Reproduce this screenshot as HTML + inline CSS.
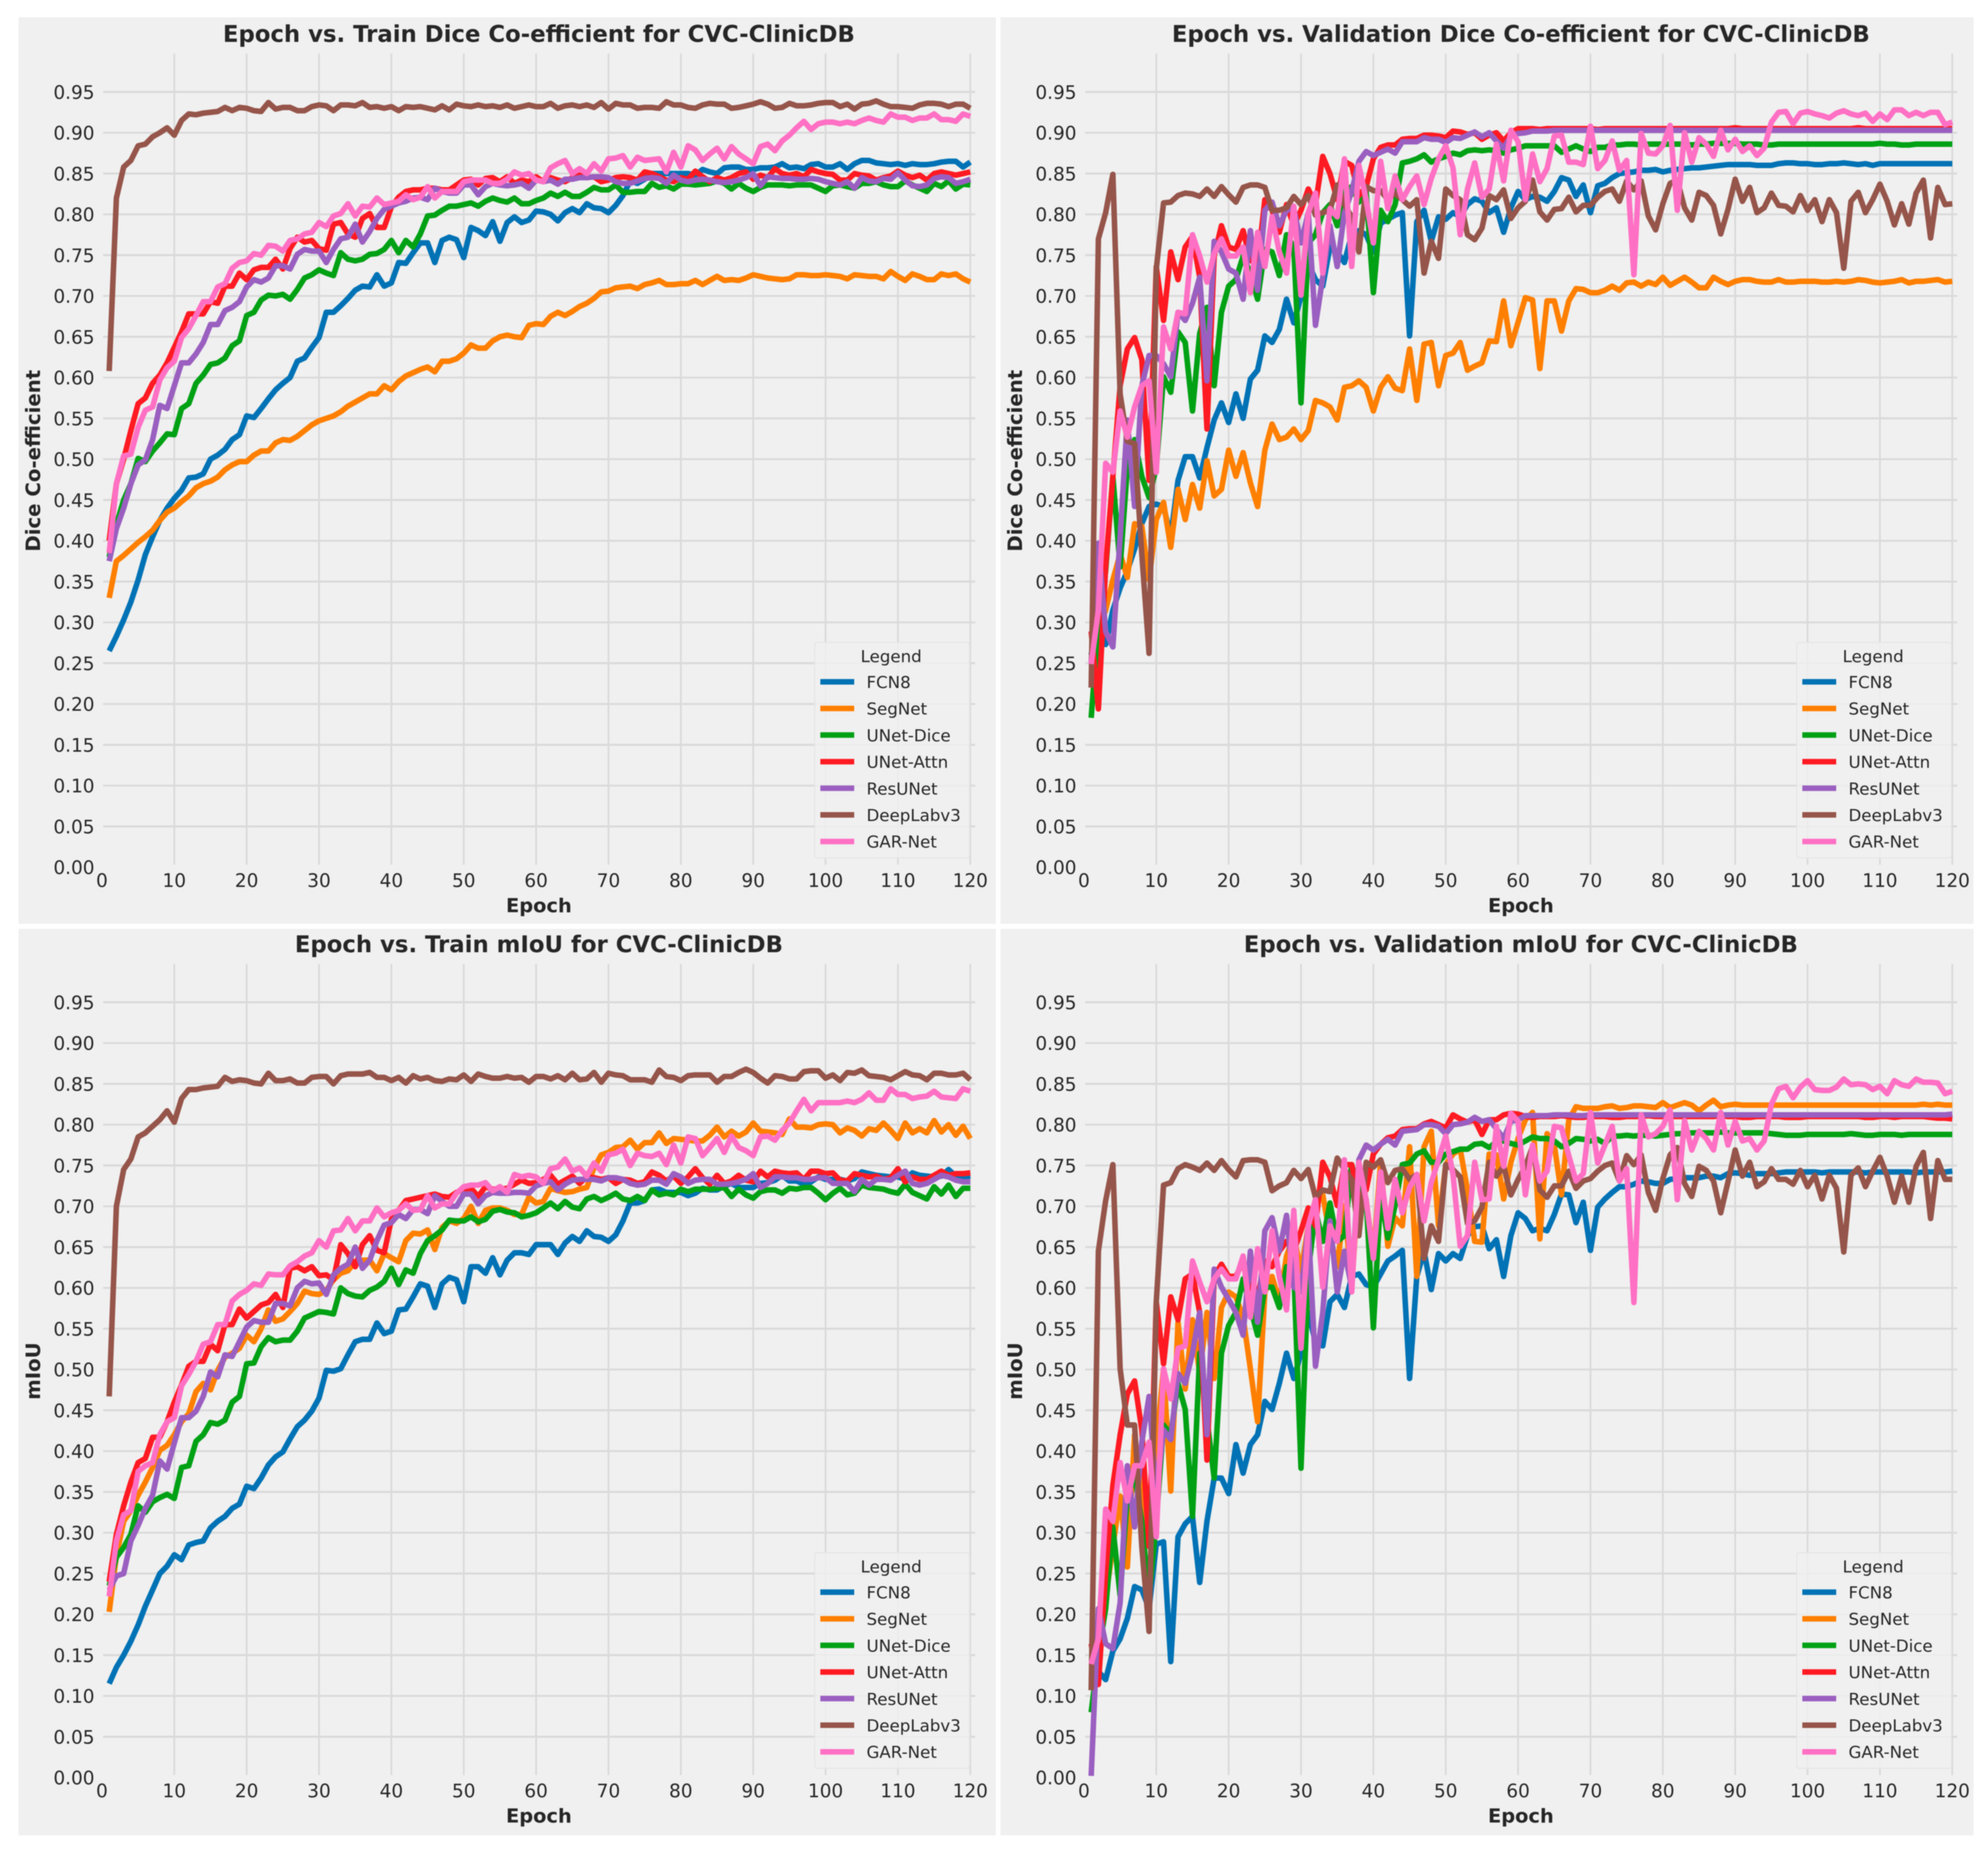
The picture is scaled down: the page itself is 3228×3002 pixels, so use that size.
<!DOCTYPE html>
<html lang="en">
<head>
<meta charset="utf-8">
<title>Epoch vs. Dice and mIoU for CVC-ClinicDB</title>
<style>
html,body{margin:0;padding:0;background:#fff;width:3228px;height:3002px;overflow:hidden}
#chart{display:block;filter:blur(0.8px)}
text{font-family:"DejaVu Sans","Liberation Sans",sans-serif;fill:#262626}
</style>
</head>
<body>
<svg id="chart" xmlns="http://www.w3.org/2000/svg" width="3228" height="3002" viewBox="0 0 3228 3002"></svg>
<script>
const xTickValues = [10,20,30,40,50,60,70,80,90,100,110,120];
const xTickLabels = ["0","10","20","30","40","50","60","70","80","90","100","110","120"];
const yTickLabels = ["0.00","0.05","0.10","0.15","0.20","0.25","0.30","0.35","0.40","0.45","0.50","0.55","0.60","0.65","0.70","0.75","0.80","0.85","0.90","0.95"];
const seriesNames = ["FCN8","SegNet","UNet-Dice","UNet-Attn","ResUNet","DeepLabv3","GAR-Net"];

const trainDiceFCN8 = [
.265,.283,.303,.325,.352,.383,.405,.425,.44,.452,
.462,.477,.478,.482,.5,.505,.512,.524,.53,.553,
.551,.562,.574,.585,.593,.6,.62,.624,.637,.649,
.68,.68,.688,.697,.707,.712,.711,.726,.712,.716,
.741,.74,.753,.765,.765,.741,.768,.772,.769,.747,
.784,.78,.774,.791,.767,.79,.797,.79,.793,.804,
.803,.8,.792,.802,.807,.802,.813,.808,.807,.802,
.811,.823,.841,.838,.843,.85,.85,.85,.85,.85,
.85,.848,.855,.852,.85,.857,.858,.858,.855,.855,
.857,.857,.858,.862,.857,.858,.856,.861,.862,.858,
.858,.862,.855,.862,.866,.866,.863,.862,.861,.862,
.86,.862,.861,.861,.862,.864,.865,.865,.858,.864];
const trainDiceSegNet = [
.33,.375,.382,.39,.398,.405,.413,.425,.435,.44,
.448,.455,.465,.47,.473,.478,.487,.493,.497,.497,
.505,.51,.51,.52,.524,.523,.528,.535,.542,.547,
.55,.553,.558,.565,.57,.575,.58,.58,.59,.585,
.595,.602,.606,.61,.613,.607,.62,.62,.623,.63,
.64,.636,.636,.645,.65,.652,.65,.649,.664,.666,
.665,.675,.68,.676,.681,.687,.691,.697,.705,.706,
.71,.711,.712,.709,.714,.716,.719,.714,.714,.715,
.715,.719,.714,.719,.724,.719,.72,.719,.722,.726,
.724,.722,.721,.72,.721,.726,.726,.725,.725,.726,
.725,.724,.721,.726,.725,.724,.724,.721,.73,.724,
.719,.727,.724,.72,.72,.727,.725,.727,.721,.717];
const trainDiceUNetDice = [
.38,.42,.45,.47,.501,.497,.51,.52,.531,.53,
.562,.568,.593,.603,.616,.618,.624,.639,.645,.676,
.68,.695,.701,.7,.702,.696,.708,.722,.726,.732,
.728,.725,.753,.745,.743,.745,.751,.752,.757,.768,
.753,.768,.76,.776,.798,.799,.805,.81,.81,.812,
.814,.81,.816,.82,.817,.815,.82,.813,.813,.817,
.82,.826,.822,.827,.822,.822,.827,.833,.83,.83,
.836,.827,.827,.828,.828,.838,.833,.835,.831,.837,
.837,.836,.837,.838,.841,.838,.831,.838,.832,.828,
.833,.836,.836,.836,.835,.836,.836,.836,.832,.828,
.835,.836,.834,.832,.838,.838,.84,.836,.834,.834,
.841,.836,.832,.828,.838,.834,.841,.831,.837,.836];
const trainDiceUNetAttn = [
.4,.47,.5,.535,.568,.575,.593,.603,.618,.637,
.656,.678,.678,.678,.693,.691,.712,.712,.728,.72,
.732,.735,.735,.745,.733,.758,.772,.766,.768,.758,
.756,.788,.79,.776,.772,.795,.801,.784,.784,.809,
.821,.828,.83,.83,.832,.832,.83,.83,.836,.842,
.843,.836,.844,.845,.84,.846,.838,.842,.84,.846,
.84,.845,.842,.84,.845,.848,.845,.846,.84,.842,
.845,.846,.845,.842,.852,.85,.846,.842,.84,.845,
.843,.853,.846,.84,.845,.842,.845,.85,.852,.843,
.848,.845,.856,.85,.848,.85,.846,.855,.852,.85,
.849,.842,.842,.85,.848,.847,.842,.845,.847,.853,
.848,.845,.848,.842,.85,.852,.85,.848,.85,.852];
const trainDiceResUNet = [
.375,.415,.44,.47,.493,.499,.524,.566,.562,.59,
.618,.618,.629,.643,.665,.665,.682,.686,.693,.711,
.72,.717,.722,.737,.737,.733,.751,.757,.755,.755,
.741,.757,.77,.772,.788,.766,.779,.795,.806,.81,
.814,.816,.82,.821,.818,.832,.828,.826,.826,.836,
.836,.824,.834,.838,.836,.835,.836,.838,.832,.842,
.84,.842,.837,.843,.843,.845,.845,.846,.846,.845,
.84,.838,.838,.841,.844,.845,.844,.838,.848,.842,
.84,.842,.843,.842,.84,.839,.84,.842,.845,.85,
.835,.846,.845,.844,.844,.843,.843,.844,.843,.84,
.838,.836,.84,.832,.845,.841,.84,.844,.843,.851,
.842,.835,.834,.836,.844,.846,.845,.838,.84,.843];
const trainDiceDeepLab = [
.608,.82,.858,.866,.884,.886,.895,.9,.906,.897,
.915,.923,.922,.924,.925,.926,.931,.927,.931,.93,
.927,.926,.937,.929,.931,.931,.927,.927,.932,.934,
.933,.927,.934,.934,.933,.937,.931,.932,.93,.932,
.927,.932,.931,.932,.93,.928,.933,.928,.935,.933,
.932,.934,.932,.933,.931,.934,.93,.932,.934,.932,
.932,.936,.93,.933,.934,.932,.934,.931,.937,.929,
.936,.934,.934,.93,.931,.931,.93,.938,.934,.934,
.931,.93,.934,.936,.935,.935,.93,.931,.933,.935,
.938,.935,.93,.931,.936,.933,.933,.934,.936,.937,
.937,.932,.935,.929,.935,.936,.939,.935,.932,.932,
.931,.93,.934,.936,.936,.935,.932,.935,.935,.93];
const trainDiceGAR = [
.385,.47,.504,.506,.539,.56,.564,.597,.612,.62,
.649,.66,.676,.693,.693,.711,.715,.734,.741,.743,
.752,.75,.762,.761,.755,.768,.77,.776,.778,.79,
.785,.798,.801,.813,.798,.81,.809,.82,.812,.814,
.816,.824,.818,.821,.834,.82,.828,.828,.828,.84,
.842,.842,.842,.838,.838,.843,.852,.848,.85,.842,
.84,.857,.862,.866,.85,.856,.85,.862,.853,.868,
.869,.872,.858,.87,.866,.867,.868,.852,.876,.858,
.884,.879,.866,.874,.881,.868,.883,.874,.868,.862,
.883,.886,.878,.89,.897,.906,.914,.904,.911,.913,
.913,.911,.913,.911,.915,.918,.915,.913,.923,.919,
.919,.915,.918,.918,.923,.916,.916,.914,.923,.92];

const valDiceFCN8 = [
.26,.3,.273,.315,.342,.363,.39,.421,.442,.445,
.442,.405,.474,.503,.503,.477,.514,.548,.569,.545,
.58,.55,.598,.609,.651,.643,.659,.696,.667,.699,
.74,.72,.712,.76,.754,.741,.775,.78,.775,.754,
.789,.794,.799,.802,.651,.791,.805,.767,.797,.794,
.802,.797,.812,.819,.816,.802,.808,.778,.808,.828,
.818,.822,.821,.816,.828,.845,.842,.822,.836,.802,
.835,.838,.845,.85,.851,.852,.854,.854,.855,.852,
.854,.855,.856,.857,.857,.858,.859,.86,.861,.861,
.861,.861,.86,.86,.86,.862,.863,.863,.862,.862,
.861,.861,.862,.862,.863,.862,.861,.862,.86,.862,
.862,.862,.862,.862,.862,.862,.862,.862,.862,.862];
const valDiceSegNet = [
.25,.29,.315,.352,.384,.355,.421,.418,.352,.426,
.447,.392,.463,.426,.469,.44,.498,.455,.463,.511,
.479,.508,.471,.442,.511,.543,.524,.527,.537,.524,
.535,.572,.569,.564,.548,.588,.59,.596,.588,.559,
.588,.601,.587,.584,.635,.572,.641,.643,.59,.627,
.63,.643,.609,.614,.618,.645,.644,.694,.639,.668,
.698,.695,.611,.694,.694,.657,.694,.709,.708,.704,
.704,.707,.712,.707,.716,.717,.712,.717,.714,.723,
.713,.718,.723,.717,.71,.71,.723,.718,.714,.718,
.72,.72,.718,.717,.717,.72,.717,.717,.718,.718,
.718,.717,.717,.718,.717,.718,.72,.719,.717,.716,
.717,.718,.72,.716,.718,.718,.719,.72,.717,.718];
const valDiceUNetDice = [
.183,.3,.363,.479,.368,.49,.524,.479,.453,.49,
.601,.582,.656,.643,.559,.654,.686,.59,.68,.712,
.72,.749,.728,.696,.757,.754,.725,.775,.76,.569,
.765,.775,.802,.812,.786,.828,.834,.815,.828,.704,
.805,.791,.812,.863,.865,.868,.873,.864,.868,.871,
.875,.873,.878,.879,.878,.879,.878,.875,.879,.881,
.884,.884,.884,.884,.884,.876,.88,.884,.88,.877,
.882,.882,.885,.885,.886,.886,.885,.886,.886,.886,
.886,.886,.886,.885,.886,.886,.887,.887,.887,.887,
.886,.886,.886,.885,.885,.886,.886,.886,.886,.886,
.886,.886,.886,.886,.886,.886,.886,.886,.886,.887,
.886,.886,.885,.885,.886,.886,.886,.886,.886,.886];
const valDiceUNetAttn = [
.289,.194,.368,.479,.59,.635,.649,.622,.474,.736,
.67,.754,.72,.76,.773,.723,.537,.749,.786,.76,
.757,.78,.744,.738,.818,.805,.778,.812,.786,.805,
.831,.812,.871,.85,.818,.865,.86,.823,.834,.868,
.882,.885,.885,.892,.893,.893,.897,.897,.896,.894,
.902,.901,.898,.9,.892,.897,.9,.89,.9,.905,
.905,.905,.904,.905,.905,.905,.905,.905,.905,.905,
.904,.905,.905,.905,.905,.905,.905,.905,.905,.905,
.905,.905,.905,.905,.905,.905,.905,.905,.905,.906,
.905,.905,.905,.905,.905,.905,.905,.905,.905,.905,
.905,.905,.905,.905,.905,.905,.906,.905,.905,.905,
.905,.905,.905,.905,.905,.905,.905,.905,.905,.905];
const valDiceResUNet = [
.25,.397,.289,.27,.405,.548,.442,.59,.627,.627,
.617,.601,.68,.67,.691,.723,.596,.767,.754,.733,
.728,.696,.78,.707,.805,.815,.786,.805,.807,.765,
.802,.664,.723,.786,.736,.802,.828,.865,.877,.872,
.876,.88,.875,.889,.889,.889,.894,.892,.892,.888,
.894,.893,.897,.901,.895,.9,.89,.881,.896,.899,
.9,.902,.902,.902,.903,.903,.903,.903,.903,.903,
.903,.903,.903,.903,.903,.903,.903,.903,.903,.903,
.903,.903,.903,.903,.903,.903,.903,.903,.903,.903,
.903,.903,.903,.903,.903,.903,.903,.903,.903,.903,
.903,.903,.903,.903,.903,.903,.903,.903,.903,.903,
.903,.903,.903,.903,.903,.903,.903,.903,.903,.903];
const valDiceDeepLab = [
.22,.77,.802,.849,.58,.522,.519,.384,.262,.733,
.814,.815,.823,.826,.825,.822,.831,.822,.834,.824,
.815,.833,.836,.836,.833,.805,.805,.808,.822,.812,
.823,.799,.802,.805,.836,.812,.797,.754,.834,.829,
.829,.818,.826,.818,.81,.818,.728,.767,.746,.831,
.823,.818,.775,.769,.783,.823,.818,.83,.795,.808,
.816,.842,.803,.793,.806,.807,.821,.803,.811,.811,
.821,.828,.831,.816,.841,.83,.841,.798,.781,.813,
.838,.842,.808,.793,.827,.823,.811,.776,.806,.843,
.816,.833,.802,.808,.826,.811,.81,.803,.823,.805,
.818,.791,.818,.802,.734,.816,.827,.802,.818,.837,
.816,.787,.813,.788,.826,.842,.771,.833,.812,.813];
const valDiceGAR = [
.249,.315,.495,.484,.559,.527,.564,.59,.596,.484,
.662,.635,.68,.678,.775,.749,.717,.752,.77,.749,
.749,.76,.704,.778,.736,.797,.754,.728,.81,.701,
.802,.826,.728,.807,.797,.868,.736,.86,.818,.765,
.865,.807,.847,.818,.834,.847,.812,.844,.868,.884,
.857,.775,.831,.863,.821,.831,.886,.841,.903,.889,
.818,.874,.84,.856,.896,.897,.864,.864,.861,.908,
.856,.866,.89,.854,.866,.726,.899,.875,.874,.884,
.909,.805,.9,.864,.894,.886,.871,.903,.879,.892,
.877,.884,.872,.881,.913,.925,.926,.911,.924,.926,
.923,.921,.918,.924,.927,.923,.921,.924,.914,.923,
.916,.928,.928,.921,.925,.921,.925,.925,.91,.913];

const trainIouFCN8 = [
.115,.135,.15,.167,.187,.21,.23,.25,.259,.273,
.267,.285,.288,.29,.306,.314,.32,.33,.335,.357,
.354,.367,.383,.393,.399,.415,.43,.438,.449,.465,
.499,.498,.501,.518,.534,.537,.537,.557,.544,.547,
.573,.574,.589,.605,.602,.576,.605,.613,.61,.583,
.626,.626,.618,.637,.616,.634,.643,.643,.641,.653,
.653,.653,.641,.655,.663,.657,.67,.663,.662,.657,
.665,.682,.704,.704,.707,.72,.721,.717,.717,.717,
.713,.716,.722,.72,.72,.725,.728,.723,.723,.723,
.728,.729,.732,.738,.731,.731,.727,.73,.736,.733,
.733,.733,.731,.734,.742,.74,.738,.737,.736,.736,
.733,.741,.738,.737,.736,.737,.745,.737,.736,.737];
const trainIouSegNet = [
.203,.272,.314,.327,.346,.362,.38,.401,.407,.42,
.436,.446,.473,.483,.475,.499,.515,.52,.526,.542,
.534,.55,.573,.559,.562,.571,.581,.596,.593,.592,
.597,.61,.618,.621,.632,.634,.634,.621,.642,.637,
.632,.658,.667,.666,.671,.647,.674,.682,.679,.685,
.7,.679,.695,.698,.698,.695,.69,.69,.711,.704,
.706,.722,.719,.717,.718,.721,.723,.747,.763,.766,
.772,.773,.781,.77,.778,.778,.79,.777,.783,.782,
.781,.78,.78,.787,.797,.785,.792,.786,.791,.802,
.792,.791,.79,.788,.807,.797,.797,.796,.8,.801,
.8,.79,.796,.793,.786,.795,.793,.802,.793,.783,
.802,.79,.795,.79,.805,.791,.8,.787,.798,.783];
const trainIouUNetDice = [
.235,.27,.282,.298,.333,.325,.338,.343,.347,.342,
.38,.382,.412,.42,.435,.433,.438,.46,.467,.507,
.508,.528,.539,.534,.536,.536,.547,.563,.567,.571,
.57,.568,.6,.593,.59,.589,.597,.601,.608,.624,
.604,.622,.618,.642,.658,.664,.671,.683,.682,.682,
.687,.681,.684,.694,.696,.693,.692,.687,.689,.692,
.698,.704,.697,.706,.699,.697,.709,.712,.707,.711,
.716,.709,.707,.712,.707,.72,.714,.716,.714,.721,
.718,.721,.721,.721,.722,.723,.712,.721,.714,.71,
.718,.72,.72,.716,.722,.721,.723,.723,.716,.708,
.716,.722,.714,.716,.726,.723,.722,.721,.718,.716,
.727,.717,.713,.709,.724,.715,.726,.712,.722,.722];
const trainIouUNetAttn = [
.24,.298,.333,.362,.386,.391,.417,.417,.436,.46,
.481,.504,.51,.51,.531,.523,.555,.555,.574,.563,
.571,.579,.582,.592,.576,.624,.626,.621,.626,.615,
.616,.61,.653,.642,.626,.653,.664,.646,.643,.684,
.695,.707,.709,.711,.713,.715,.712,.711,.717,.721,
.722,.712,.724,.721,.721,.722,.727,.732,.728,.729,
.733,.738,.727,.732,.737,.728,.736,.735,.733,.735,
.728,.733,.732,.728,.73,.742,.738,.731,.737,.728,
.736,.746,.735,.727,.738,.728,.731,.738,.732,.73,
.743,.736,.743,.741,.74,.741,.733,.743,.743,.74,
.741,.732,.731,.74,.738,.736,.737,.733,.735,.746,
.73,.736,.733,.733,.738,.743,.738,.74,.74,.741];
const trainIouResUNet = [
.23,.247,.25,.29,.309,.33,.346,.388,.378,.41,
.441,.441,.449,.467,.497,.491,.518,.516,.534,.552,
.56,.558,.558,.581,.581,.578,.6,.608,.605,.606,
.592,.616,.624,.629,.65,.624,.634,.658,.677,.68,
.69,.685,.696,.696,.691,.713,.706,.7,.7,.715,
.715,.703,.713,.717,.716,.716,.717,.717,.716,.725,
.728,.73,.72,.727,.732,.733,.733,.733,.731,.735,
.735,.733,.728,.726,.727,.732,.732,.727,.74,.736,
.728,.732,.733,.733,.727,.727,.728,.73,.733,.74,
.723,.728,.736,.736,.735,.735,.733,.733,.735,.735,
.728,.728,.728,.718,.733,.726,.733,.733,.732,.738,
.743,.728,.726,.728,.733,.738,.736,.732,.73,.73];
const trainIouDeepLab = [
.467,.7,.745,.758,.785,.79,.798,.806,.817,.803,
.832,.843,.843,.845,.846,.847,.858,.853,.855,.854,
.851,.85,.863,.854,.854,.856,.851,.851,.858,.859,
.859,.85,.86,.862,.862,.862,.864,.858,.858,.854,
.858,.851,.86,.856,.858,.854,.853,.856,.855,.861,
.853,.862,.859,.857,.857,.859,.857,.858,.852,.859,
.859,.856,.86,.855,.863,.855,.856,.864,.852,.863,
.861,.86,.855,.855,.855,.852,.867,.859,.858,.854,
.86,.861,.861,.861,.852,.859,.859,.864,.868,.864,
.857,.851,.86,.859,.856,.856,.865,.866,.866,.857,
.861,.854,.864,.863,.867,.86,.859,.858,.855,.86,
.865,.861,.86,.855,.863,.863,.861,.861,.863,.855];
const trainIouGAR = [
.222,.29,.322,.327,.375,.382,.386,.42,.436,.441,
.48,.494,.51,.531,.534,.555,.555,.584,.592,.597,
.605,.603,.617,.616,.616,.627,.632,.639,.643,.658,
.65,.67,.671,.685,.67,.682,.682,.698,.687,.692,
.695,.703,.695,.696,.713,.698,.703,.703,.716,.724,
.726,.726,.729,.719,.724,.717,.739,.736,.738,.736,
.728,.746,.748,.758,.743,.747,.737,.753,.743,.763,
.765,.77,.75,.765,.762,.761,.765,.751,.775,.753,
.785,.783,.762,.772,.783,.766,.786,.772,.768,.762,
.785,.786,.781,.793,.802,.817,.831,.817,.827,.827,
.827,.827,.829,.827,.831,.839,.83,.83,.844,.837,
.837,.832,.834,.835,.841,.834,.833,.832,.844,.841];

const valIouFCN8 = [
.11,.13,.12,.155,.17,.195,.234,.23,.207,.286,
.289,.142,.295,.311,.32,.239,.314,.367,.367,.348,
.408,.373,.408,.42,.461,.451,.483,.52,.489,.52,
.57,.533,.529,.583,.592,.576,.614,.617,.604,.601,
.617,.633,.639,.646,.489,.614,.645,.598,.642,.633,
.642,.636,.664,.675,.676,.648,.659,.614,.664,.692,
.685,.67,.673,.67,.69,.715,.714,.68,.705,.646,
.699,.709,.717,.724,.724,.727,.731,.73,.728,.728,
.733,.734,.735,.735,.735,.737,.737,.735,.74,.741,
.74,.738,.74,.74,.74,.741,.742,.742,.742,.742,
.742,.741,.742,.742,.742,.742,.742,.741,.742,.742,
.742,.742,.742,.742,.741,.742,.742,.742,.742,.743];
const valIouSegNet = [
.12,.16,.22,.283,.345,.258,.42,.345,.295,.408,
.501,.351,.558,.476,.561,.495,.57,.489,.576,.595,
.589,.564,.501,.436,.595,.614,.583,.639,.664,.62,
.676,.708,.714,.664,.626,.701,.601,.733,.708,.639,
.754,.651,.686,.676,.773,.614,.773,.792,.676,.751,
.764,.77,.72,.657,.656,.764,.763,.709,.754,.783,
.806,.815,.66,.789,.775,.714,.806,.822,.82,.82,
.82,.822,.823,.82,.821,.823,.823,.822,.821,.827,
.821,.824,.827,.824,.817,.824,.83,.822,.824,.825,
.824,.824,.824,.824,.824,.824,.824,.824,.824,.824,
.824,.824,.824,.824,.824,.824,.824,.824,.824,.824,
.824,.824,.824,.824,.824,.825,.824,.825,.824,.824];
const valIouUNetDice = [
.08,.151,.207,.307,.223,.345,.37,.314,.22,.314,
.432,.42,.483,.451,.32,.52,.439,.367,.52,.554,
.57,.611,.576,.542,.601,.601,.576,.626,.623,.379,
.62,.695,.657,.704,.657,.664,.751,.72,.708,.551,
.714,.661,.701,.751,.753,.764,.768,.754,.754,.764,
.767,.77,.77,.776,.777,.772,.779,.78,.777,.775,
.78,.785,.783,.783,.78,.773,.777,.783,.782,.78,
.782,.777,.786,.786,.787,.786,.787,.787,.786,.787,
.788,.789,.789,.79,.79,.79,.79,.791,.79,.79,
.79,.79,.79,.79,.789,.788,.787,.787,.787,.788,
.788,.788,.788,.788,.788,.789,.788,.787,.787,.788,
.788,.788,.787,.788,.788,.788,.788,.788,.788,.788];
const valIouUNetAttn = [
.164,.114,.251,.358,.42,.47,.486,.426,.283,.583,
.507,.589,.561,.611,.617,.57,.389,.614,.629,.614,
.614,.633,.601,.589,.633,.626,.645,.657,.645,.67,
.698,.676,.754,.736,.701,.751,.751,.708,.72,.764,
.776,.784,.786,.794,.795,.795,.801,.804,.8,.796,
.812,.807,.803,.806,.788,.806,.806,.812,.814,.813,
.81,.809,.81,.81,.81,.811,.81,.809,.809,.81,
.81,.81,.809,.809,.81,.81,.81,.811,.81,.81,
.81,.81,.81,.81,.81,.81,.81,.811,.81,.81,
.809,.809,.81,.81,.81,.81,.809,.809,.809,.81,
.81,.81,.81,.81,.81,.81,.81,.809,.809,.81,
.81,.809,.81,.81,.81,.81,.809,.808,.808,.807];
const valIouResUNet = [
.002,.207,.164,.158,.214,.382,.307,.411,.467,.345,
.426,.414,.495,.483,.52,.57,.42,.623,.601,.586,
.57,.542,.645,.558,.67,.686,.645,.689,.601,.595,
.676,.504,.57,.682,.595,.645,.601,.757,.775,.769,
.776,.782,.775,.792,.793,.794,.8,.8,.798,.789,
.8,.801,.803,.809,.804,.806,.795,.783,.804,.806,
.811,.811,.811,.811,.812,.812,.812,.811,.811,.812,
.812,.812,.812,.812,.812,.812,.812,.812,.812,.812,
.812,.812,.812,.812,.812,.812,.812,.812,.812,.812,
.812,.812,.812,.812,.812,.812,.812,.812,.812,.812,
.812,.812,.812,.812,.812,.812,.812,.812,.812,.812,
.812,.812,.812,.812,.812,.812,.812,.812,.812,.813];
const valIouDeepLab = [
.107,.645,.707,.751,.501,.432,.432,.283,.179,.583,
.726,.729,.746,.751,.748,.744,.753,.744,.756,.745,
.736,.756,.757,.757,.754,.719,.725,.729,.744,.734,
.745,.711,.72,.718,.759,.745,.733,.664,.754,.748,
.757,.729,.744,.746,.733,.739,.636,.676,.657,.751,
.745,.736,.679,.682,.699,.754,.737,.749,.714,.733,
.749,.773,.72,.711,.725,.725,.743,.722,.731,.734,
.743,.75,.753,.731,.762,.751,.763,.717,.695,.734,
.763,.772,.728,.712,.749,.744,.731,.692,.73,.769,
.737,.754,.724,.73,.746,.733,.733,.727,.744,.724,
.738,.709,.738,.722,.644,.738,.747,.724,.743,.76,
.737,.705,.737,.705,.749,.766,.685,.756,.733,.733];
const valIouGAR = [
.139,.17,.329,.314,.386,.339,.382,.382,.411,.295,
.501,.464,.526,.529,.633,.607,.583,.611,.623,.611,
.611,.639,.564,.648,.595,.67,.614,.573,.695,.526,
.676,.708,.601,.676,.657,.757,.595,.754,.708,.636,
.742,.673,.733,.692,.723,.739,.682,.729,.757,.786,
.739,.651,.664,.754,.708,.709,.798,.749,.814,.804,
.714,.775,.731,.743,.798,.796,.762,.731,.74,.815,
.753,.775,.798,.731,.746,.582,.812,.785,.789,.798,
.818,.708,.805,.769,.792,.783,.769,.815,.775,.804,
.78,.783,.769,.78,.825,.844,.847,.833,.846,.854,
.843,.842,.842,.846,.856,.849,.85,.849,.843,.847,
.838,.854,.849,.847,.856,.852,.852,.851,.838,.841];

const seriesColors = ["#0072b5","#ff7f00","#00a114","#ff1a22","#9a5fc0","#96554a","#ff70c4"];
const panels = [
  {slug:"train-dice",title:"Epoch vs. Train Dice Co-efficient for CVC-ClinicDB",ylabel:"Dice Co-efficient",col:0,row:0,
   values:[trainDiceFCN8,trainDiceSegNet,trainDiceUNetDice,trainDiceUNetAttn,trainDiceResUNet,trainDiceDeepLab,trainDiceGAR]},
  {slug:"val-dice",title:"Epoch vs. Validation Dice Co-efficient for CVC-ClinicDB",ylabel:"Dice Co-efficient",col:1,row:0,
   values:[valDiceFCN8,valDiceSegNet,valDiceUNetDice,valDiceUNetAttn,valDiceResUNet,valDiceDeepLab,valDiceGAR]},
  {slug:"train-miou",title:"Epoch vs. Train mIoU for CVC-ClinicDB",ylabel:"mIoU",col:0,row:1,
   values:[trainIouFCN8,trainIouSegNet,trainIouUNetDice,trainIouUNetAttn,trainIouResUNet,trainIouDeepLab,trainIouGAR]},
  {slug:"val-miou",title:"Epoch vs. Validation mIoU for CVC-ClinicDB",ylabel:"mIoU",col:1,row:1,
   values:[valIouFCN8,valIouSegNet,valIouUNetDice,valIouUNetAttn,valIouResUNet,valIouDeepLab,valIouGAR]}
];

const svg = document.getElementById('chart');
const NS = 'http://www.w3.org/2000/svg';
function mk(tag, attrs, parent, txt){
  const el = document.createElementNS(NS, tag);
  for (const k in attrs) el.setAttribute(k, attrs[k]);
  if (txt !== undefined) el.textContent = txt;
  parent.appendChild(el);
  return el;
}
function xScale(p, epoch){ return p.x0 + epoch * 11.75; }
function yScale(p, value){ return p.y0 - value * 1325; }

panels.forEach(function(p){
  p.dx = p.col ? 1594.5 : 0;
  p.dy = p.row ? 1478 : 0;
  p.x0 = 165.5 + p.dx;
  p.y0 = 1408 + p.dy;
  const g = mk('g', {}, svg);
  
  

  const bg = mk('rect', {x:30+p.dx, y:28+(p.row?1480:0), width:p.col?1580:1587, height:1472, fill:'#f0f0f0'}, g);
  
  

  const title = mk('text', {x:875+p.dx, y:68+p.dy, 'text-anchor':'middle', 'font-size':37, 'font-weight':'bold', fill:'#111'}, g, p.title);
  
  

  yTickLabels.forEach(function(lbl){
    const v = parseFloat(lbl);
    const y = yScale(p, v);
    if (v > 0) {
      const gl = mk('line', {x1:p.x0+2, x2:p.x0+1418, y1:y, y2:y, stroke:'#dadada', 'stroke-width':3.2}, g);
      
      
    }
    const t = mk('text', {x:p.x0-12, y:y+11, 'text-anchor':'end', 'font-size':30}, g, lbl);
    
    
  });
  xTickValues.forEach(function(e){
    const x = xScale(p, e);
    const gl = mk('line', {x1:x, x2:x, y1:87+p.dy, y2:1404+p.dy, stroke:'#dadada', 'stroke-width':2.8}, g);
    
    
  });
  xTickLabels.forEach(function(lbl){
    const t = mk('text', {x:xScale(p, parseFloat(lbl)), y:1440+p.dy, 'text-anchor':'middle', 'font-size':30}, g, lbl);
    
    
  });

  const xl = mk('text', {x:875+p.dx, y:1481+p.dy, 'text-anchor':'middle', 'font-size':31.5, 'font-weight':'bold', fill:'#111'}, g, 'Epoch');
  
  
  const yl = mk('text', {transform:'translate('+(65+p.dx)+' '+(748+p.dy)+') rotate(-90)', 'text-anchor':'middle', 'font-size':32, 'font-weight':'bold', fill:'#111'}, g, p.ylabel);
  
  

  p.values.forEach(function(vals, i){
    const pts = vals.map(function(v, k){ return xScale(p, k+1).toFixed(1)+','+yScale(p, v).toFixed(1); }).join(' ');
    const line = mk('polyline', {points:pts, fill:'none', stroke:seriesColors[i], 'stroke-width':9, 'stroke-linejoin':'round', 'stroke-linecap':'butt'}, g);
    
    
  });

  const lg = mk('g', {}, g);
  
  
  const box = mk('rect', {x:1323+p.dx, y:1043+p.dy, width:251, height:350, rx:4, fill:'#f0f0f0', 'fill-opacity':0.8, stroke:'#e6e6e6', 'stroke-width':2}, lg);
  
  
  const lt = mk('text', {x:1447+p.dx, y:1075+p.dy, 'text-anchor':'middle', 'font-size':27}, lg, 'Legend');
  
  
  seriesNames.forEach(function(name, i){
    const ly = 1107 + i * 43.2 + p.dy;
    const sw = mk('line', {x1:1332+p.dx, x2:1387+p.dx, y1:ly, y2:ly, stroke:seriesColors[i], 'stroke-width':9}, lg);
    
    
    const tx = mk('text', {x:1407+p.dx, y:ly+10, 'font-size':27}, lg, name);
    
    
  });
});
</script>
</body>
</html>
